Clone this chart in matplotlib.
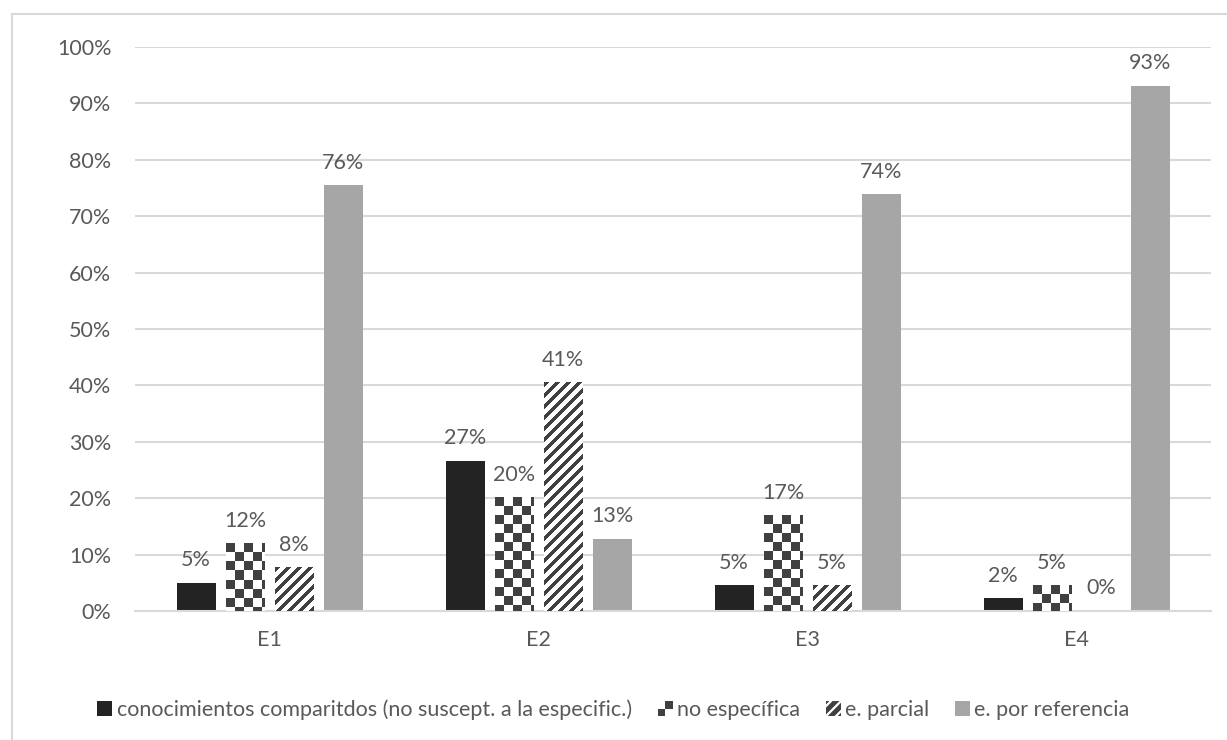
"""Grouped bars: knowledge specification type per exercise (E1-E4)."""

import numpy as np
import matplotlib.pyplot as plt
from matplotlib.colors import ListedColormap
from matplotlib.legend_handler import HandlerBase
from matplotlib.patches import Rectangle, Patch
from matplotlib.lines import Line2D

plt.rcParams['font.family'] = ['Lato', 'DejaVu Sans']

groups = ['E1', 'E2', 'E3', 'E4']
series_names = ['conocimientos comparitdos (no suscept. a la especific.)',
                'no específica', 'e. parcial', 'e. por referencia']
compartidos = [5.0, 26.6, 4.6, 2.3]
no_especifica = [11.9, 20.2, 17.0, 4.6]
parcial = [7.8, 40.6, 4.6, 0.0]
por_referencia = [75.5, 12.8, 73.9, 93.1]

TEXT = '#595959'
GRID = '#d9d9d9'
DARK = '#404040'
FS = 15.5
W, H = 1227, 740


def pattern_image(ax, bar, kind):
  """Overlay a pixel pattern (checker or stripes) clipped to a bar."""
  x0, y0 = bar.get_x(), bar.get_y()
  x1, y1 = x0 + bar.get_width(), y0 + bar.get_height()
  if y1 <= y0:
    return
  (px0, py0), (px1, py1) = ax.transData.transform([(x0, y0), (x1, y1)])
  wpx = max(int(round(px1 - px0)), 1)
  hpx = max(int(round(py1 - py0)), 1)
  j, i = np.meshgrid(np.arange(wpx), np.arange(hpx))
  if kind == 'checker':
    arr = ((i // 9 + j // 9) % 2 == 0).astype(float)
  else:
    arr = (((i + j) % 11) < 5).astype(float)
  ax.imshow(arr, extent=(x0, x1, y0, y1), origin='upper', aspect='auto',
            interpolation='nearest', cmap=ListedColormap(['white', DARK]),
            vmin=0, vmax=1, clip_path=bar, zorder=3)


class CheckerHandler(HandlerBase):
  def create_artists(self, legend, orig_handle, xdescent, ydescent,
                     width, height, fontsize, trans):
    arts = []
    cw, ch = width / 2, height / 2
    for r in range(2):
      for c in range(2):
        fc = DARK if (r + c) % 2 == 0 else 'white'
        arts.append(Rectangle((-xdescent + c * cw, -ydescent + r * ch),
                              cw, ch, facecolor=fc, edgecolor='none',
                              transform=trans))
    return arts


class StripeHandler(HandlerBase):
  def create_artists(self, legend, orig_handle, xdescent, ydescent,
                     width, height, fontsize, trans):
    box = Rectangle((-xdescent, -ydescent), width, height, facecolor='white',
                    edgecolor='none', transform=trans)
    arts = [box]
    for k in np.linspace(-0.5, 1.5, 4):
      ln = Line2D([-xdescent + (k - 0.5) * width, -xdescent + (k + 0.5) * width],
                  [-ydescent, -ydescent + height], color=DARK, lw=3.5,
                  transform=trans)
      ln.set_clip_path(box)
      arts.append(ln)
    return arts


fig = plt.figure(figsize=(W / 100, H / 100), dpi=100)

# light frame round the chart area
fig.add_artist(Line2D([11.5 / W, 11.5 / W], [0, 1 - 14 / H], color=GRID,
                      lw=1.5, transform=fig.transFigure))
fig.add_artist(Line2D([11.5 / W, 1], [1 - 14 / H, 1 - 14 / H], color=GRID,
                      lw=1.5, transform=fig.transFigure))

ax = fig.add_axes([135 / W, (H - 611) / H, (1211 - 135) / W, (611 - 47) / H])
ax.set_autoscale_on(False)
ax.set_xlim(-0.5, len(groups) - 0.5)
ax.set_ylim(0, 100)

x = np.arange(len(groups))
step, width = 49 / 269, 39 / 269
values = [compartidos, no_especifica, parcial, por_referencia]
face = ['#232323', 'white', 'white', '#a6a6a6']
kinds = [None, 'checker', 'stripes', None]

for k, (vals, fc, kind) in enumerate(zip(values, face, kinds)):
  bars = ax.bar(x + (k - 1.5) * step, vals, width, color=fc, zorder=2)
  for b, v in zip(bars, vals):
    if kind:
      pattern_image(ax, b, kind)
    ax.annotate(f'{v:.0f}%', (b.get_x() + b.get_width() / 2, v),
                xytext=(0, 9), textcoords='offset points', ha='center',
                va='bottom', fontsize=FS, color=TEXT)

ax.set_yticks(np.arange(0, 101, 10))
ax.set_yticklabels([f'{t}%' for t in range(0, 101, 10)])
ax.set_xticks(x)
ax.set_xticklabels(groups)
ax.tick_params(length=0, labelsize=FS, labelcolor=TEXT)
ax.tick_params(axis='y', pad=17)
ax.tick_params(axis='x', pad=14)
ax.grid(axis='y', color=GRID, lw=1.5, zorder=0)
ax.set_axisbelow(True)
for side in ['left', 'right', 'top']:
  ax.spines[side].set_visible(False)
ax.spines['bottom'].set_color(GRID)
ax.spines['bottom'].set_linewidth(1.5)

handles = [Patch(facecolor='#232323'), Patch(facecolor='white'),
           Patch(facecolor='white'), Patch(facecolor='#a6a6a6')]
fig.legend(handles, series_names, loc='center', ncol=4, frameon=False,
           bbox_to_anchor=(0.5, 30 / H), fontsize=FS, labelcolor=TEXT,
           handlelength=0.7, handleheight=0.7, handletextpad=0.2,
           columnspacing=1.2,
           handler_map={handles[1]: CheckerHandler(),
                        handles[2]: StripeHandler()})

fig.savefig('out.png', dpi=100)
